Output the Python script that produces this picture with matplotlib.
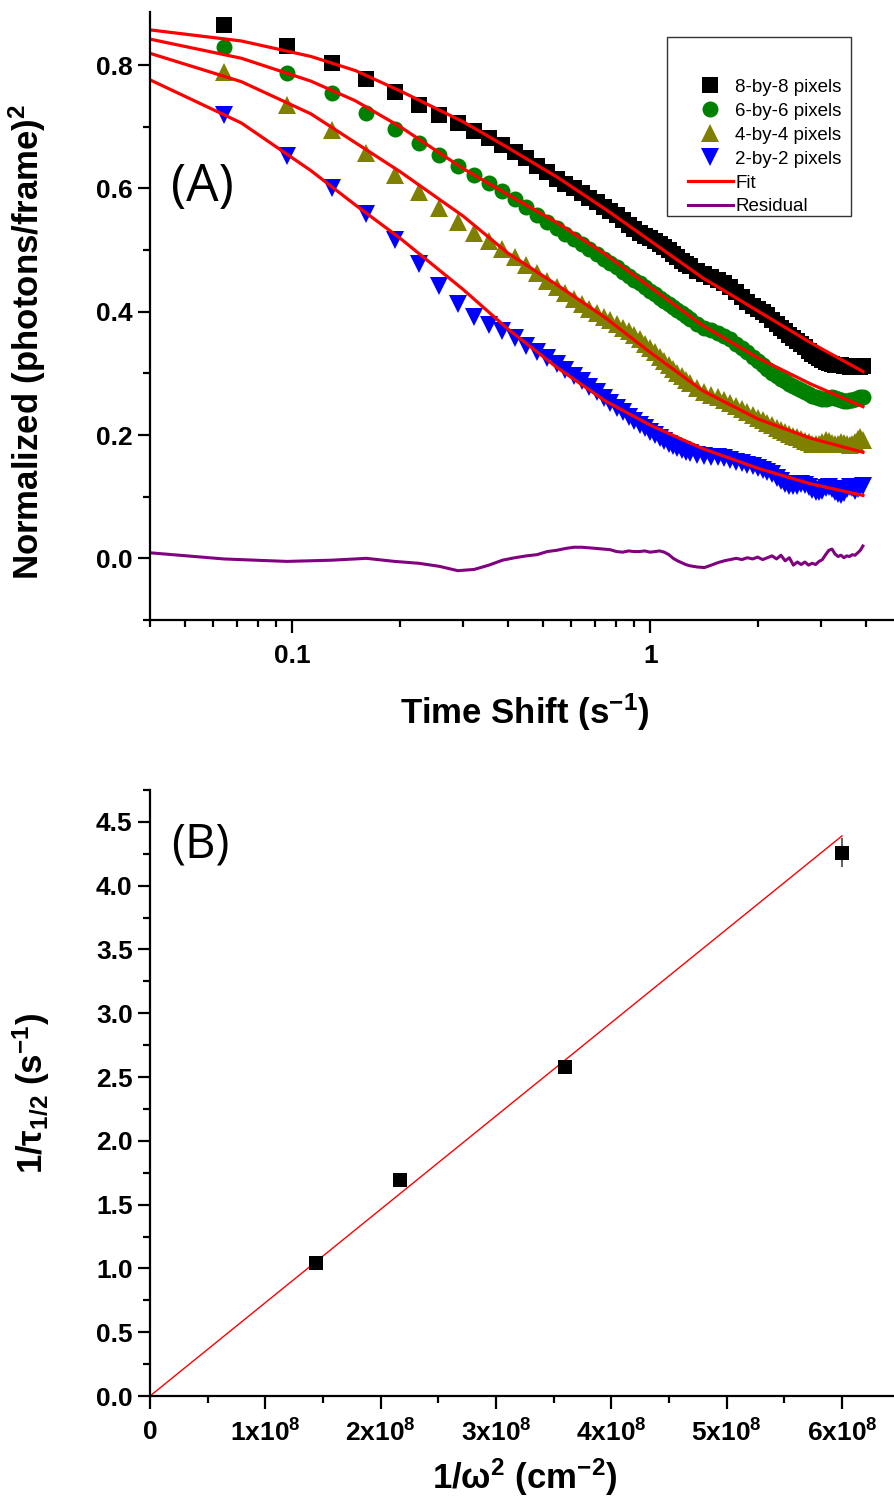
import numpy as np
import matplotlib
matplotlib.use("Agg")
import matplotlib.pyplot as plt
from matplotlib.ticker import FixedLocator, NullFormatter, FixedFormatter
from matplotlib.lines import Line2D
from matplotlib.patches import Rectangle

plt.rcParams['font.family'] = ['Liberation Sans', 'DejaVu Sans']
plt.rcParams['mathtext.fontset'] = 'custom'
plt.rcParams['mathtext.rm'] = 'Liberation Sans'
plt.rcParams['mathtext.bf'] = 'Liberation Sans:bold'
plt.rcParams['mathtext.it'] = 'Liberation Sans:italic'
plt.rcParams['mathtext.default'] = 'bf'

# ---- panel A data: lag (frames) and normalized correlation ----
frame_time = 0.0322
lag_frames = np.concatenate([np.arange(2, 41), np.arange(42, 123, 2)])
lag_t = lag_frames * frame_time

pix8 = [0.865, 0.831, 0.803, 0.777, 0.756, 0.735, 0.719, 0.706, 0.693,
        0.681, 0.670, 0.659, 0.649, 0.637, 0.626, 0.615, 0.607, 0.600, 0.592,
        0.585, 0.578, 0.570, 0.563, 0.556, 0.548, 0.541, 0.534, 0.528, 0.523,
        0.519, 0.515, 0.510, 0.505, 0.500, 0.494, 0.488, 0.482, 0.478, 0.474,
        0.466, 0.461, 0.456, 0.452, 0.446, 0.440, 0.432, 0.424, 0.416, 0.410,
        0.405, 0.400, 0.394, 0.387, 0.380, 0.374, 0.368, 0.362, 0.357, 0.352,
        0.347, 0.342, 0.337, 0.332, 0.328, 0.325, 0.322, 0.319, 0.317, 0.315,
        0.314, 0.313, 0.313, 0.312, 0.312, 0.311, 0.311, 0.311, 0.311, 0.311, 0.312]
pix6 = [0.830, 0.787, 0.754, 0.722, 0.696, 0.673, 0.654, 0.637, 0.621,
        0.608, 0.595, 0.582, 0.569, 0.556, 0.545, 0.535, 0.526, 0.518, 0.510,
        0.502, 0.494, 0.486, 0.479, 0.472, 0.465, 0.458, 0.452, 0.446, 0.440,
        0.434, 0.428, 0.423, 0.418, 0.413, 0.408, 0.403, 0.398, 0.393, 0.388,
        0.380, 0.374, 0.370, 0.366, 0.361, 0.355, 0.348, 0.341, 0.334, 0.327,
        0.320, 0.313, 0.307, 0.301, 0.296, 0.291, 0.287, 0.283, 0.279, 0.276,
        0.273, 0.270, 0.267, 0.264, 0.262, 0.260, 0.259, 0.259, 0.260, 0.261,
        0.260, 0.258, 0.256, 0.255, 0.255, 0.256, 0.257, 0.258, 0.260, 0.262, 0.262]
pix4 = [0.789, 0.735, 0.694, 0.657, 0.622, 0.594, 0.568, 0.546, 0.528,
        0.515, 0.502, 0.488, 0.475, 0.462, 0.450, 0.440, 0.430, 0.421, 0.413,
        0.405, 0.398, 0.392, 0.386, 0.380, 0.374, 0.368, 0.362, 0.355, 0.348,
        0.341, 0.334, 0.327, 0.320, 0.313, 0.307, 0.301, 0.295, 0.290, 0.285,
        0.276, 0.270, 0.265, 0.261, 0.257, 0.252, 0.247, 0.242, 0.237, 0.232,
        0.228, 0.224, 0.220, 0.216, 0.212, 0.208, 0.205, 0.202, 0.199, 0.196,
        0.193, 0.190, 0.188, 0.186, 0.185, 0.186, 0.189, 0.192, 0.190, 0.187,
        0.185, 0.186, 0.188, 0.187, 0.185, 0.184, 0.186, 0.189, 0.193, 0.196, 0.192]
pix2 = [0.719, 0.653, 0.601, 0.559, 0.517, 0.478, 0.442, 0.413, 0.392,
        0.379, 0.369, 0.358, 0.345, 0.334, 0.325, 0.315, 0.305, 0.296, 0.287,
        0.278, 0.269, 0.260, 0.252, 0.244, 0.237, 0.230, 0.223, 0.217, 0.211,
        0.205, 0.200, 0.195, 0.190, 0.186, 0.182, 0.179, 0.176, 0.173, 0.171,
        0.168, 0.166, 0.165, 0.164, 0.162, 0.160, 0.157, 0.155, 0.152, 0.149,
        0.146, 0.143, 0.140, 0.136, 0.131, 0.126, 0.121, 0.118, 0.117, 0.118,
        0.120, 0.119, 0.115, 0.111, 0.108, 0.107, 0.110, 0.114, 0.116, 0.113,
        0.108, 0.104, 0.103, 0.106, 0.112, 0.116, 0.114, 0.110, 0.112, 0.116, 0.118]

# fitted curves
fit_t = [0.04, 0.072, 0.1125, 0.15, 0.2, 0.3, 0.4, 0.55, 0.75, 1.0, 1.4, 2.0, 2.8, 3.93]
fit8 = [0.857, 0.839, 0.814, 0.791, 0.758, 0.708, 0.666, 0.618, 0.566, 0.515, 0.455, 0.401, 0.350, 0.303]
fit6 = [0.842, 0.811, 0.774, 0.742, 0.700, 0.632, 0.590, 0.544, 0.493, 0.440, 0.378, 0.325, 0.283, 0.246]
fit4 = [0.819, 0.773, 0.721, 0.674, 0.627, 0.555, 0.495, 0.443, 0.390, 0.334, 0.272, 0.226, 0.195, 0.172]
fit2 = [0.776, 0.706, 0.629, 0.573, 0.519, 0.436, 0.372, 0.309, 0.255, 0.216, 0.178, 0.146, 0.121, 0.102]

resid_t = np.concatenate([[0.04], lag_t])
resid = [0.009,
         -0.001, -0.005, -0.003, 0.000, -0.005, -0.008, -0.013, -0.020, -0.018,
         -0.011, -0.003, 0.001, 0.004, 0.006, 0.011, 0.013, 0.016, 0.018, 0.018,
         0.017, 0.016, 0.015, 0.014, 0.011, 0.010, 0.012, 0.011, 0.011, 0.012,
         0.010, 0.011, 0.012, 0.010, 0.006, 0.000, -0.004, -0.007, -0.010, -0.012,
         -0.014, -0.015, -0.011, -0.007, -0.004, -0.002, 0.000, -0.002, 0.001, -0.001,
         0.002, -0.002, 0.001, 0.004, -0.001, 0.005, -0.004, 0.001, -0.011, -0.006,
         -0.010, -0.006, -0.011, -0.008, -0.010, -0.005, -0.002, 0.006, 0.013, 0.015,
         0.007, 0.003, 0.005, 0.001, 0.004, 0.003, 0.006, 0.005, 0.009, 0.013, 0.020]

# ---- panel B data ----
inv_w2 = [1.44e8, 2.17e8, 3.60e8, 6.00e8]
inv_tau = [1.04, 1.69, 2.58, 4.26]
inv_tau_err = [0.02, 0.02, 0.04, 0.11]
line_x = [0, 6.0e8]
line_y = [0, 4.39]

fig = plt.figure(figsize=(8.95, 15.09), dpi=100)
W, H = 895, 1509
ax1 = fig.add_axes([150 / W, 1 - 620 / H, 745 / W, 608 / H])
ax2 = fig.add_axes([150 / W, 1 - 1396 / H, 745 / W, 606 / H])

series = [
    (pix8, 's', 'black', 11, '8-by-8 pixels'),
    (pix6, 'o', '#008000', 11.5, '6-by-6 pixels'),
    (pix4, '^', '#808000', 13, '4-by-4 pixels'),
    (pix2, 'v', '#0000ff', 13, '2-by-2 pixels'),
]
for vals, m, c, ms, lab in series:
    ax1.plot(lag_t, vals, ls='none', marker=m, color=c, ms=ms, mew=0, clip_on=False)
for f in [fit8, fit6, fit4, fit2]:
    ax1.plot(fit_t, f, color='#ff0000', lw=2.3)
ax1.plot(resid_t, resid, color='#800080', lw=2.2)

ax1.set_xscale('log')
ax1.set_xlim(0.04, 4.83)
ax1.set_ylim(-0.1, 0.886)
ax1.xaxis.set_major_locator(FixedLocator([0.1, 1]))
ax1.xaxis.set_major_formatter(FixedFormatter(['0.1', '1']))
ax1.xaxis.set_minor_locator(FixedLocator([0.04, 0.05, 0.06, 0.07, 0.08, 0.09,
                                          0.2, 0.3, 0.4, 0.5, 0.6, 0.7, 0.8, 0.9,
                                          2, 3, 4]))
ax1.xaxis.set_minor_formatter(NullFormatter())
ax1.set_yticks([0.0, 0.2, 0.4, 0.6, 0.8])
ax1.set_yticklabels(['0.0', '0.2', '0.4', '0.6', '0.8'])
ax1.set_yticks([-0.1, 0.1, 0.3, 0.5, 0.7], minor=True)

ax1.set_xlabel('Time Shift (s$^{-1}$)', fontsize=25, fontweight='bold')
ax1.set_ylabel('Normalized (photons/frame)$^2$', fontsize=25, fontweight='bold')
ax1.xaxis.set_label_coords(0.503, -0.118)
ax1.yaxis.set_label_coords(-0.137, 0.457)
ax1.text(0.07, 0.711, '(A)', transform=ax1.transAxes, fontsize=37,
         family=['Open Sans', 'DejaVu Sans'], ha='center', va='center')

# legend: entries without frame, plus a separate box
handles = [Line2D([], [], ls='none', marker=m, color=c, ms=ms, mew=0)
           for _, m, c, ms, _ in series]
handles += [Line2D([], [], color='#ff0000', lw=2.3), Line2D([], [], color='#800080', lw=2.2)]
labels = [s[4] for s in series] + ['Fit', 'Residual']
ax1.legend(handles, labels, loc='upper left', bbox_to_anchor=(0.722, 0.890),
           fontsize=13.5, frameon=False, handlelength=2.4, handletextpad=0.12,
           labelspacing=0.36, borderpad=0, borderaxespad=0)
ax1.add_patch(Rectangle((0.694, 0.6645), 0.247, 0.2945, transform=ax1.transAxes,
                        fill=False, edgecolor='#333333', lw=1.0, zorder=5))

# ---- panel B ----
ax2.plot(line_x, line_y, color='#ff0000', lw=1.0)
ax2.errorbar(inv_w2, inv_tau, yerr=inv_tau_err, fmt='s', color='black', ms=9.5, mew=0,
             ecolor='#444444', elinewidth=1.2, capsize=5, capthick=1.4)
ax2.set_xlim(0, 6.46e8)
ax2.set_ylim(0, 4.75)
ax2.set_xticks([0, 1e8, 2e8, 3e8, 4e8, 5e8, 6e8])
ax2.set_xticklabels(['0'] + ['%dx10$^8$' % i for i in range(1, 7)])
ax2.set_xticks([0.5e8, 1.5e8, 2.5e8, 3.5e8, 4.5e8, 5.5e8], minor=True)
ax2.set_yticks([0, 0.5, 1.0, 1.5, 2.0, 2.5, 3.0, 3.5, 4.0, 4.5])
ax2.set_yticklabels(['%.1f' % v for v in [0, 0.5, 1.0, 1.5, 2.0, 2.5, 3.0, 3.5, 4.0, 4.5]])
ax2.set_yticks([0.25, 0.75, 1.25, 1.75, 2.25, 2.75, 3.25, 3.75, 4.25, 4.75], minor=True)
ax2.set_xlabel('1/\u03c9$^2$ (cm$^{-2}$)', fontsize=25, fontweight='bold')
ax2.set_ylabel('1/\u03c4$_{1/2}$ (s$^{-1}$)', fontsize=25, fontweight='bold')
ax2.xaxis.set_label_coords(0.503, -0.100)
ax2.yaxis.set_label_coords(-0.132, 0.5)
ax2.text(0.068, 0.909, '(B)', transform=ax2.transAxes, fontsize=34,
         family=['Open Sans', 'DejaVu Sans'], ha='center', va='center')

for ax in (ax1, ax2):
    for s in ('top', 'right'):
        ax.spines[s].set_visible(False)
    for s in ('left', 'bottom'):
        ax.spines[s].set_linewidth(1.6)
    ax.tick_params(which='major', direction='out', length=9, width=1.6, labelsize=19)
    ax.tick_params(which='minor', direction='out', length=5, width=1.6)
    ax.tick_params(axis='x', which='major', pad=8)
    for lab in ax.get_xticklabels() + ax.get_yticklabels():
        lab.set_fontweight('bold')

fig.savefig('out.png', dpi=100)
